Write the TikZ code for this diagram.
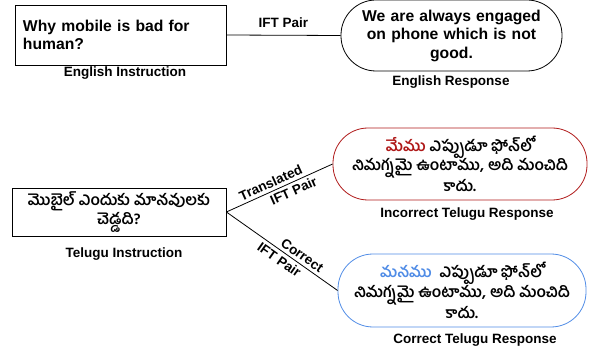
\documentclass[tikz,border=0pt]{standalone}
\usepackage{fontspec}
\setmainfont{Liberation Sans}
\newfontfamily\telugu[Script=Telugu]{Hind Guntur}
\definecolor{wrongred}{RGB}{175,25,25}
\definecolor{rightblue}{RGB}{80,140,230}
\tikzset{
    caja/.style={draw, thick, font=\bfseries\fontsize{15.7}{18.5}\selectfont},
    capsula/.style={draw, thick, rounded corners=35pt, align=center},
    etiqueta/.style={font=\bfseries\fontsize{13.5}{15}\selectfont},
    tel/.style={font=\telugu\bfseries\fontsize{15.4}{19.5}\selectfont}
}
\begin{document}
\begin{tikzpicture}[x=1pt, y=-1pt]
        \useasboundingbox (0, 0) rectangle (590, 350);

        % Instrucción y respuesta en inglés
        \node[caja, minimum width=211pt, minimum height=60pt, text width=195pt, align=left] (eninst) at (120.5, 35) {Why mobile is bad for\\human?};
        \node[caja, capsula, minimum width=221pt, minimum height=71pt, text width=200pt] (enresp) at (451.5, 35.5) {We are always engaged\\on phone which is not\\good.};
        \node[etiqueta] (enil) at (125, 73) {English Instruction};
        \node[etiqueta] (enrl) at (451, 82) {English Response};
        \draw[thick] (eninst.east) -- node[etiqueta, above=4pt] {IFT Pair} (enresp.west);

        % Instrucción en telugu
        \node[caja, tel, minimum width=214pt, minimum height=48pt, align=center] (teinst) at (119, 212) {మొబైల్ ఎందుకు మానవులకు\\చెడ్డది?};
        \node[etiqueta] (teil) at (124, 254) {Telugu Instruction};

        % Respuestas en telugu
        \node[capsula, tel, draw=wrongred, minimum width=254pt, minimum height=72pt] (teinc) at (460, 164) {{\color{wrongred}మేము} ఎప్పుడూ ఫోన్‌లో\\నిమగ్నమై ఉంటాము, అది మంచిది\\కాదు.};
        \node[capsula, tel, draw=rightblue, minimum width=248pt, minimum height=73pt] (tecor) at (462, 290.5) {{\color{rightblue}మనము}\ \ ఎప్పుడూ ఫోన్‌లో\\నిమగ్నమై ఉంటాము, అది మంచిది\\కాదు.};
        \node[etiqueta] (teincl) at (467, 214) {Incorrect Telugu Response};
        \node[etiqueta] (tecorl) at (475, 340) {Correct Telugu Response};

        % Pares IFT
        \draw[thick] (teinst.east) -- node[etiqueta, inner sep=1pt, pos=0.45, sloped, above=2pt] {Translated} node[etiqueta, inner sep=1pt, pos=0.6, sloped, below=2pt] {IFT Pair} (teinc.west);
        \draw[thick] (teinst.east) -- node[etiqueta, inner sep=1pt, pos=0.64, sloped, above=2pt] {Correct} node[etiqueta, inner sep=1pt, pos=0.52, sloped, below=2pt] {IFT Pair} (tecor.west);

    \end{tikzpicture}
\end{document}
